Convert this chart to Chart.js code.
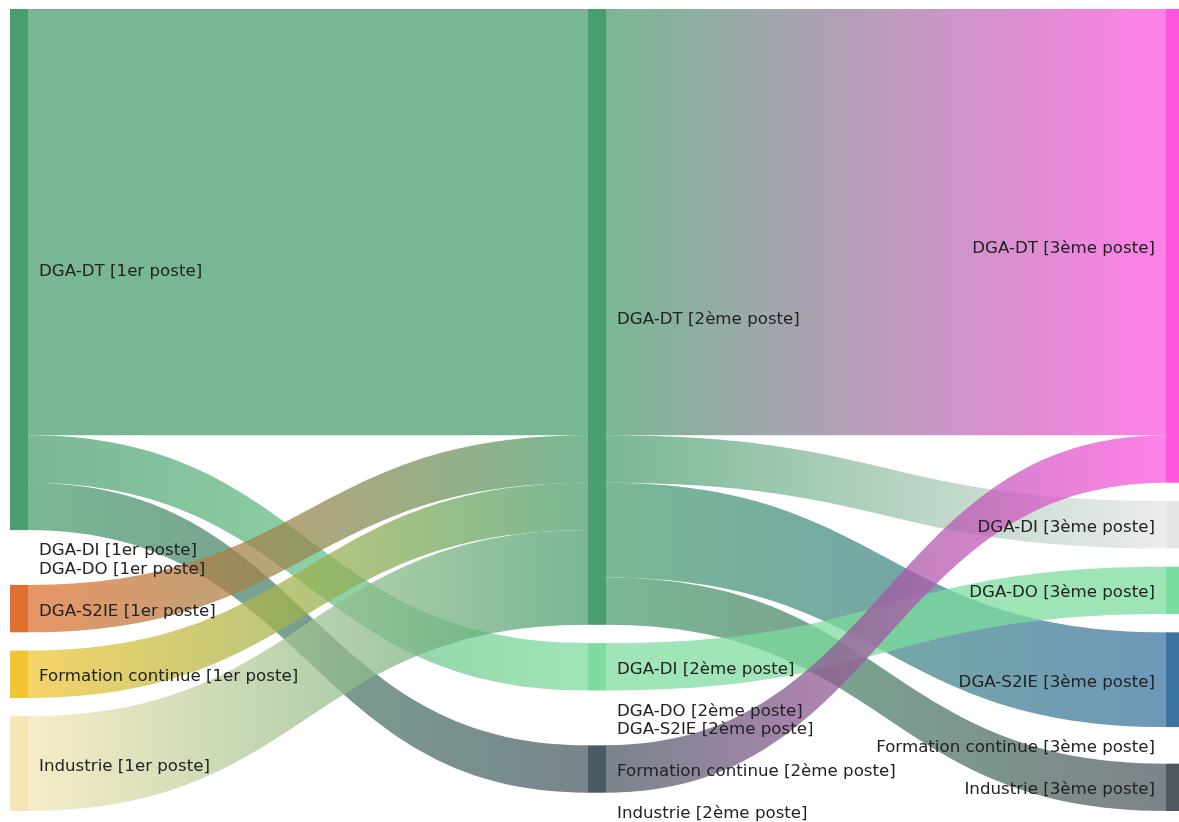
<!DOCTYPE html>
<html>
<head>
<meta charset="utf-8">
<style>
html,body{margin:0;padding:0;background:#fff;overflow:hidden}
#wrap{width:1179px;height:822px;position:relative}
</style>
<script src="https://cdn.jsdelivr.net/npm/chart.js@4.4.1/dist/chart.umd.min.js"></script>
</head>
<body>
<div id="wrap"><canvas id="c"></canvas></div>
<script>
// ---- data ----
const categories = ['DGA-DT', 'DGA-DI', 'DGA-DO', 'DGA-S2IE', 'Formation continue', 'Industrie'];
const stages = ['1er poste', '2ème poste', '3ème poste'];
const nodeColorsStage1 = ['#4a9e6e', '#7edc9e', '#7adc9e', '#e07030', '#f0c432', '#f5e6b4'];
const nodeColorsStage2 = ['#4a9e6e', '#7edc9e', '#7adc9e', '#3c74a0', '#4a5a64', '#505860'];
const nodeColorsStage3 = ['#ff55e0', '#e6e6e6', '#7adc9e', '#3c74a0', '#4a5a64', '#505860'];
// flows: stage of source, source category, target category, value
const flowStage  = [0, 0, 0, 0, 0, 0, 1, 1, 1, 1, 1, 1];
const flowFrom   = ['DGA-DT', 'DGA-DT', 'DGA-DT', 'DGA-S2IE', 'Formation continue', 'Industrie',
                    'DGA-DT', 'DGA-DT', 'DGA-DT', 'DGA-DT', 'DGA-DI', 'Formation continue'];
const flowTo     = ['DGA-DT', 'DGA-DI', 'Formation continue', 'DGA-DT', 'DGA-DT', 'DGA-DT',
                    'DGA-DT', 'DGA-DI', 'DGA-S2IE', 'Industrie', 'DGA-DO', 'DGA-DT'];
const flowValues = [9, 1, 1, 1, 1, 2,
                    9, 1, 2, 1, 1, 1];

// ---- layout settings ----
const nodeGap = 0.386;      // gap between nodes, in value units
const nodeWidth = 18;       // px
const flowAlpha = 0.74;
const nodeColors = [nodeColorsStage1, nodeColorsStage2, nodeColorsStage3];

function hexToRgba(h, a) {
  const n = parseInt(h.slice(1), 16);
  return 'rgba(' + ((n >> 16) & 255) + ',' + ((n >> 8) & 255) + ',' + (n & 255) + ',' + a + ')';
}

// node values
const nodeVal = stages.map(() => categories.map(() => 0));
const inSum = stages.map(() => categories.map(() => 0));
const outSum = stages.map(() => categories.map(() => 0));
flowValues.forEach((v, k) => {
  const s = flowStage[k];
  outSum[s][categories.indexOf(flowFrom[k])] += v;
  inSum[s + 1][categories.indexOf(flowTo[k])] += v;
});
stages.forEach((_, s) => categories.forEach((_, i) => {
  nodeVal[s][i] = Math.max(inSum[s][i], outSum[s][i]);
}));
const colTotals = nodeVal.map(col => col.reduce((a, b) => a + b, 0) + (categories.length - 1) * nodeGap);
const yMax = Math.max(...colTotals);

const sankeyPlugin = {
  id: 'sankeyDraw',
  afterDatasetsDraw(chart) {
    const ctx = chart.ctx;
    const xs = chart.scales.x, ys = chart.scales.y;
    const nodeStart = stages.map((_, s) => {
      let acc = 0;
      return categories.map((_, i) => { const st = acc; acc += nodeVal[s][i] + nodeGap; return st; });
    });
    const outOff = nodeStart.map(c => c.slice());
    const inOff = nodeStart.map(c => c.slice());
    const idx = flowValues.map((_, k) => k);
    const outOrder = idx.slice().sort((a, b) => flowStage[a] - flowStage[b] ||
      categories.indexOf(flowFrom[a]) - categories.indexOf(flowFrom[b]) ||
      categories.indexOf(flowTo[a]) - categories.indexOf(flowTo[b]));
    const seg = {};
    outOrder.forEach(k => {
      const s = flowStage[k], i = categories.indexOf(flowFrom[k]);
      seg[k] = { s0: outOff[s][i], s1: outOff[s][i] + flowValues[k] };
      outOff[s][i] += flowValues[k];
    });
    const inOrder = idx.slice().sort((a, b) => flowStage[a] - flowStage[b] ||
      categories.indexOf(flowTo[a]) - categories.indexOf(flowTo[b]) ||
      categories.indexOf(flowFrom[a]) - categories.indexOf(flowFrom[b]));
    inOrder.forEach(k => {
      const s = flowStage[k] + 1, j = categories.indexOf(flowTo[k]);
      seg[k].t0 = inOff[s][j]; seg[k].t1 = inOff[s][j] + flowValues[k];
      inOff[s][j] += flowValues[k];
    });

    ctx.save();
    // flows
    idx.forEach(k => {
      const s = flowStage[k];
      const i = categories.indexOf(flowFrom[k]), j = categories.indexOf(flowTo[k]);
      const x0 = xs.getPixelForValue(s) + nodeWidth;
      const x1 = xs.getPixelForValue(s + 1);
      const xm = (x0 + x1) / 2;
      const a0 = ys.getPixelForValue(seg[k].s0), a1 = ys.getPixelForValue(seg[k].s1);
      const b0 = ys.getPixelForValue(seg[k].t0), b1 = ys.getPixelForValue(seg[k].t1);
      const g = ctx.createLinearGradient(x0, 0, x1, 0);
      g.addColorStop(0, hexToRgba(nodeColors[s][i], flowAlpha));
      g.addColorStop(1, hexToRgba(nodeColors[s + 1][j], flowAlpha));
      ctx.beginPath();
      ctx.moveTo(x0, a0);
      ctx.bezierCurveTo(xm, a0, xm, b0, x1, b0);
      ctx.lineTo(x1, b1);
      ctx.bezierCurveTo(xm, b1, xm, a1, x0, a1);
      ctx.closePath();
      ctx.fillStyle = g;
      ctx.fill();
    });
    // nodes
    stages.forEach((_, s) => categories.forEach((_, i) => {
      if (nodeVal[s][i] <= 0) return;
      const x = xs.getPixelForValue(s);
      const y0 = ys.getPixelForValue(nodeStart[s][i]);
      const y1 = ys.getPixelForValue(nodeStart[s][i] + nodeVal[s][i]);
      ctx.fillStyle = nodeColors[s][i];
      ctx.fillRect(x, y0, nodeWidth, y1 - y0);
    }));
    // labels
    ctx.font = '15px "DejaVu Sans", sans-serif';
    ctx.fillStyle = '#222222';
    ctx.textBaseline = 'middle';
    stages.forEach((st, s) => categories.forEach((c, i) => {
      const text = c + ' [' + st + ']';
      const yc = ys.getPixelForValue(nodeStart[s][i] + nodeVal[s][i] / 2);
      const x = xs.getPixelForValue(s);
      ctx.save();
      if (s === stages.length - 1) {
        ctx.translate(x - 11, yc);
        ctx.textAlign = 'right';
      } else {
        ctx.translate(x + nodeWidth + 11, yc);
        ctx.textAlign = 'left';
      }
      ctx.scale(1.11, 1);
      ctx.fillText(text, 0, 3);
      ctx.restore();
    }));
    ctx.restore();
  }
};

new Chart(document.getElementById('c'), {
  type: 'scatter',
  data: { datasets: [{ data: [] }] },
  options: {
    responsive: true,
    maintainAspectRatio: false,
    animation: false,
    layout: { padding: { left: 10, right: 13, top: 9, bottom: 11 } },
    plugins: { legend: { display: false }, tooltip: { enabled: false } },
    scales: {
      x: { type: 'linear', min: 0, max: 2, display: false },
      y: { type: 'linear', min: 0, max: yMax, reverse: true, display: false }
    }
  },
  plugins: [sankeyPlugin]
});
</script>
</body>
</html>
